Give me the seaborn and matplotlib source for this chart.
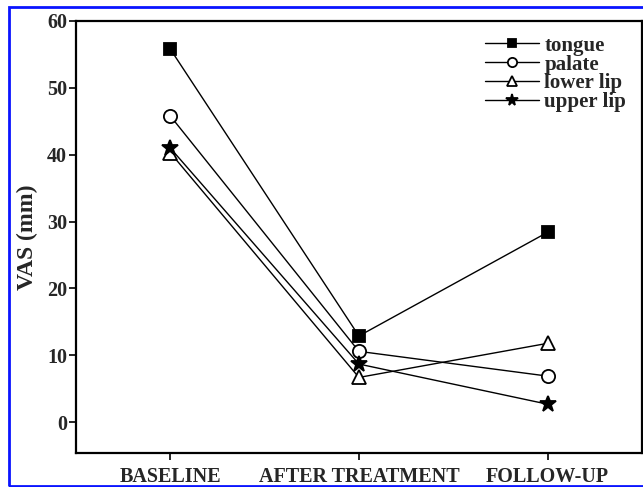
import matplotlib
matplotlib.use("Agg")
import matplotlib.pyplot as plt
from matplotlib.patches import Rectangle
import seaborn as sns
import pandas as pd

# data
timepoints = ["BASELINE", "AFTER TREATMENT", "FOLLOW-UP"]
tongue = [55.8, 12.9, 28.4]
palate = [45.8, 10.6, 6.9]
lower_lip = [40.3, 6.7, 11.8]
upper_lip = [41.0, 8.7, 2.7]

series = {"tongue": tongue, "palate": palate, "lower lip": lower_lip, "upper lip": upper_lip}
styles = {
    "tongue": dict(marker="s", markerfacecolor="black", markersize=8),
    "palate": dict(marker="o", markerfacecolor="white", markersize=9.5),
    "lower lip": dict(marker="^", markerfacecolor="white", markersize=10),
    "upper lip": dict(marker="*", markerfacecolor="black", markersize=12),
}

df = pd.DataFrame([
    {"time": t, "VAS": v, "site": name}
    for name, vals in series.items() for t, v in zip(timepoints, vals)
])
df["time"] = pd.Categorical(df["time"], categories=timepoints, ordered=True)

sns.set_style("ticks")
plt.rcParams["font.family"] = ["Liberation Serif", "DejaVu Serif"]

fig = plt.figure(figsize=(6.43, 4.87), dpi=100)
ax = fig.add_axes([0.1182, 0.0698, 0.880, 0.8871])

for name in series:
    sub = df[df["site"] == name]
    sns.lineplot(data=sub, x="time", y="VAS", ax=ax, color="black", linewidth=1.0,
                 markeredgecolor="black", markeredgewidth=1.3, label=name,
                 sort=False, **styles[name])

ax.set_xlim(-0.5, 2.5)
ax.set_ylim(-4.6, 60)
ax.set_yticks(range(0, 61, 10))
ax.set_xlabel("")
ax.set_ylabel("VAS (mm)", fontsize=17, fontweight="bold", labelpad=6)

for s in ax.spines.values():
    s.set_visible(True)
    s.set_linewidth(1.6)
    s.set_color("black")
ax.tick_params(axis="both", direction="out", length=5, width=1.2, color="black",
               labelsize=14.5)
ax.tick_params(axis="y", pad=1.5)
ax.tick_params(axis="x", pad=5)
for lab in ax.get_xticklabels() + ax.get_yticklabels():
    lab.set_fontweight("bold")

leg = ax.legend(loc="upper right", frameon=False, prop={"size": 15, "weight": "bold"},
                handlelength=2.6, handletextpad=0.25, labelspacing=-0.05, markerscale=0.7,
                borderaxespad=0.3, bbox_to_anchor=(0.998, 1.0))

# blue frame around the whole figure
fig.patches.append(Rectangle((9 / 643, 1.5 / 487), 1.0, 479 / 487, transform=fig.transFigure,
                             fill=False, edgecolor="#0a14ff", linewidth=2.0))

fig.savefig("out.png", dpi=100)
